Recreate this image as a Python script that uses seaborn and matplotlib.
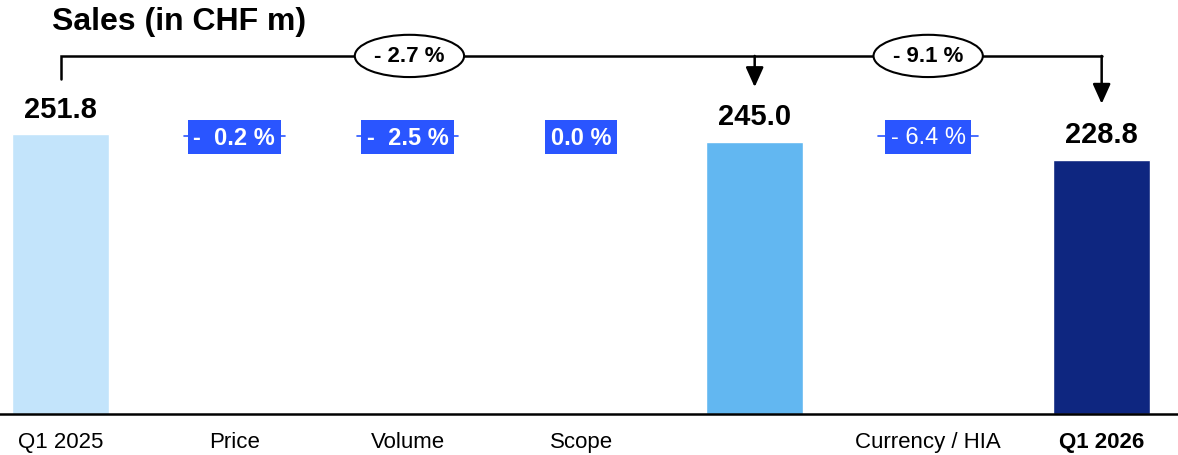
import numpy as np
import pandas as pd
import matplotlib
matplotlib.use("Agg")
import matplotlib.pyplot as plt
from matplotlib.patches import Ellipse
import seaborn as sns

# --- data -------------------------------------------------------------
categories = ["Q1 2025", "Price", "Volume", "Scope", "", "Currency / HIA", "Q1 2026"]
sales = [251.8, 0.0, 0.0, 0.0, 245.0, 0.0, 228.8]
bar_labels = ["251.8", "", "", "", "245.0", "", "228.8"]
bar_colors = ["#C3E4FB", "#FFFFFF", "#FFFFFF", "#FFFFFF", "#62B7F1", "#FFFFFF", "#0E2680"]

step_positions = [1, 2, 3, 5]
step_labels = ["-  0.2 %", "-  2.5 %", "0.0 %", "- 6.4 %"]
step_bold = [True, True, True, False]

bracket_labels = ["- 2.7 %", "- 9.1 %"]
bracket_targets = [4, 6]

# --- style ------------------------------------------------------------
sns.set_theme(style="white")
plt.rcParams["font.family"] = ["Liberation Sans", "DejaVu Sans"]

fig = plt.figure(figsize=(11.78, 4.56), dpi=100)
ax = fig.add_axes([0.0, 41 / 456, 1.0, 415 / 456])

df = pd.DataFrame({"category": categories, "sales": sales})
sns.barplot(data=df, x="category", y="sales", hue="category",
            order=categories, hue_order=categories,
            palette=dict(zip(categories, bar_colors)),
            width=0.56, legend=False, ax=ax, saturation=1)

ax.set_xlim(-0.35, 6.44)
ax.set_ylim(0, 373.2)
ax.set_xlabel("")
ax.set_ylabel("")
ax.set_yticks([])
for side in ["left", "right", "top"]:
    ax.spines[side].set_visible(False)
ax.spines["bottom"].set_color("black")
ax.spines["bottom"].set_linewidth(1.8)

ax.tick_params(axis="x", length=0, pad=12, labelsize=16, colors="black")
ax.set_xticks(range(len(categories)))
ax.set_xticklabels(categories)
ax.get_xticklabels()[-1].set_fontweight("bold")

# values above totals
for i, (v, lab) in enumerate(zip(sales, bar_labels)):
    if lab:
        ax.annotate(lab, xy=(i, v), xytext=(0, 8), textcoords="offset points",
                    ha="center", va="bottom", fontsize=21, fontweight="bold",
                    color="black")

# step changes in blue boxes
box_blue = "#2A55FF"
for pos, lab, bold in zip(step_positions, step_labels, step_bold):
    if lab != "0.0 %":
        ax.plot([pos - 0.29, pos + 0.29], [250, 250], color=box_blue, lw=1.2, zorder=2)
    ax.text(pos, 249, lab, ha="center", va="center", fontsize=17,
            fontweight="bold" if bold else "normal", color="white", zorder=3,
            bbox=dict(boxstyle="square,pad=0.24", fc=box_blue, ec="none"))

# bracket connecting the totals
y_br = 322
ax.plot([0, 0, 6], [301, y_br, y_br], color="black", lw=1.8,
        solid_joinstyle="miter", zorder=2)
arrow_ends = [294, 279]
for tgt, yend in zip(bracket_targets, arrow_ends):
    ax.annotate("", xy=(tgt, yend), xytext=(tgt, y_br),
                arrowprops=dict(arrowstyle="-|>,head_length=1.0,head_width=0.45",
                                color="black", lw=1.8, shrinkA=0, shrinkB=0))

ellipse_x = [2.01, 5.0]
for ex, lab in zip(ellipse_x, bracket_labels):
    ax.add_patch(Ellipse((ex, y_br), width=0.63, height=38, fc="white",
                         ec="black", lw=1.5, zorder=4))
    ax.text(ex, y_br, lab, ha="center", va="center", fontsize=16,
            fontweight="bold", color="black", zorder=5)

fig.text(52 / 1178, 1 - 22 / 456, "Sales (in CHF m)", ha="left", va="center",
         fontsize=23, fontweight="bold", color="black")

fig.savefig("out.png", dpi=100)
